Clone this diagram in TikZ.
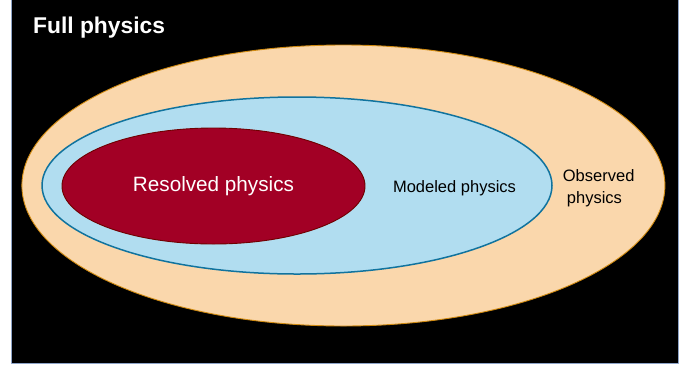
\documentclass[tikz,border=0pt]{standalone}
\usepackage{fontspec}
\setmainfont{Liberation Sans}
\usetikzlibrary{shapes.geometric,positioning}
\definecolor{framecol}{HTML}{8EA4C8}
\definecolor{obsfill}{HTML}{FAD7AC}
\definecolor{obsline}{HTML}{D08A10}
\definecolor{modfill}{HTML}{B1DDF0}
\definecolor{modline}{HTML}{10739E}
\definecolor{resfill}{HTML}{A20025}
\definecolor{resline}{HTML}{6F0000}
\tikzset{
  every picture/.append style={line cap=round,line join=round},
  phys region/.style={ellipse,inner sep=0pt,outer sep=0pt},
  phys label/.style={font=\fontsize{16.5}{22}\selectfont,inner sep=0pt}
}
\begin{document}
\begin{tikzpicture}[x=1pt,y=-1pt]
\useasboundingbox (0,0) rectangle (693,365);
% full physics frame
\draw[framecol,fill=black,line width=0.8pt] (11.7,-2) rectangle (678,363);
\node[anchor=base west,inner sep=0pt,text=white,font=\fontsize{22.8}{26}\selectfont\bfseries]
  (full) at (33,33) {Full physics};
% nested regions
\node[phys region,draw=obsline,fill=obsfill,line width=0.9pt,
  minimum width=643pt,minimum height=281pt] (observed) at (343.4,185.5) {};
\node[phys region,draw=modline,fill=modfill,line width=1.5pt,
  minimum width=510pt,minimum height=177pt] (modeled) at (297,185.5) {};
\node[phys region,draw=resline,fill=resfill,line width=0.9pt,
  minimum width=303pt,minimum height=116pt,text=white,
  font=\fontsize{20.7}{24}\selectfont] (resolved) at (213.5,186) {Resolved physics};
\node[phys label,anchor=base] (modlab) at (454.5,192) {Modeled physics};
\node[phys label,anchor=base west,align=left] (obslab) at (562.7,203)
  {Observed\\[0pt]\hspace*{4pt}physics};
\end{tikzpicture}
\end{document}
